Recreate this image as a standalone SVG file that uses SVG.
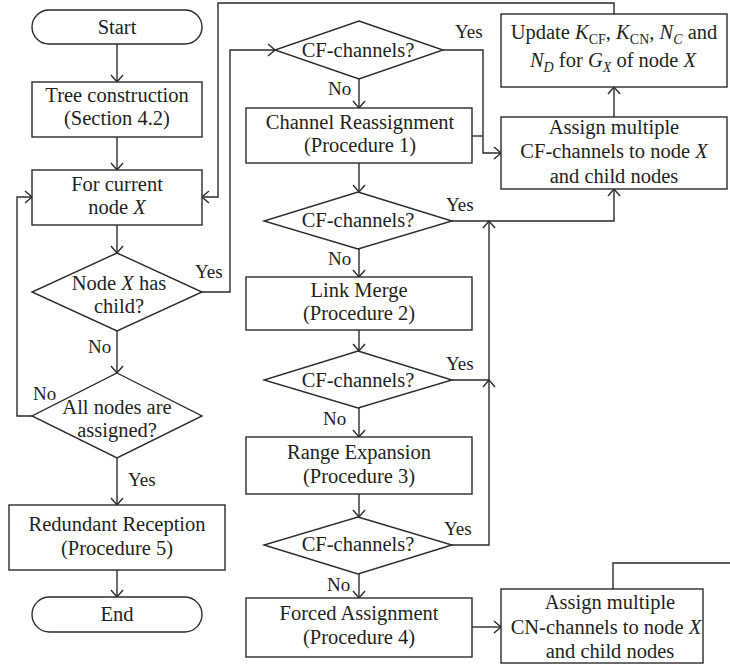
<svg xmlns="http://www.w3.org/2000/svg" width="730" height="665" viewBox="0 0 730 665">
  <defs>
    <style>
      .shape { fill: #ffffff; stroke: #2b2b2b; stroke-width: 1.4; }
      .wire { fill: none; stroke: #2b2b2b; stroke-width: 1.4; }
      .arrow { fill: none; stroke: #2b2b2b; stroke-width: 1.4; marker-end: url(#ah); }
      text { font-family: "Liberation Serif", "Times New Roman", serif; fill: #231f20; }
      .t { font-size: 20.5px; text-anchor: middle; }
      .lbl { font-size: 19px; }
      .it { font-style: italic; }
      .sub { font-size: 14px; }
    </style>
    <marker id="ah" viewBox="-10 -8 12 16" markerWidth="12" markerHeight="16" refX="0" refY="0" orient="auto" markerUnits="userSpaceOnUse">
      <path d="M-7,-6 L0,0 L-7,6" fill="none" stroke="#2b2b2b" stroke-width="1.4"/>
    </marker>
  </defs>

  <!-- connectors -->
  <g id="connectors">
    <path class="arrow" d="M117,44 V82"/>
    <path class="arrow" d="M117,137 V170"/>
    <path class="arrow" d="M117,225 V253"/>
    <path class="arrow" d="M117,331 V373"/>
    <path class="arrow" d="M117,458 V505"/>
    <path class="arrow" d="M117,570 V597"/>
    <!-- loop back: all nodes not yet assigned -->
    <path class="arrow" d="M32,416 H17 V197 H32"/>
    <!-- node has child: go to CF check -->
    <path class="arrow" d="M202,292 H230 V50 H275"/>
    <!-- CF-channels available after first check -->
    <path class="arrow" d="M443,50 H483 V153 H501"/>
    <path class="wire" d="M472,136 H483"/>
    <!-- main chain of procedures -->
    <path class="arrow" d="M359,79 V108"/>
    <path class="arrow" d="M359,163 V192"/>
    <path class="arrow" d="M359,249 V277"/>
    <path class="arrow" d="M359,330 V351"/>
    <path class="arrow" d="M359,408 V437"/>
    <path class="arrow" d="M359,494 V517"/>
    <path class="arrow" d="M359,574 V598"/>
    <path class="arrow" d="M472,627 H501"/>
    <!-- Yes branches merging upward -->
    <path class="arrow" d="M452,545 H489 V380"/>
    <path class="arrow" d="M452,380 H489 V221"/>
    <path class="arrow" d="M452,221 H614 V189"/>
    <path class="arrow" d="M614,117 V87"/>
    <!-- back to the current node -->
    <path class="arrow" d="M614,14 V3 H218 V197 H202"/>
    <path class="wire" d="M613,589 V563 H730"/>

    <!-- branch labels -->
    <text class="lbl" x="195" y="278">Yes</text>
    <text class="lbl" x="88" y="353">No</text>
    <text class="lbl" x="33" y="400">No</text>
    <text class="lbl" x="128" y="486">Yes</text>
    <text class="lbl" x="455" y="38">Yes</text>
    <text class="lbl" x="328" y="95">No</text>
    <text class="lbl" x="446" y="211">Yes</text>
    <text class="lbl" x="328" y="265">No</text>
    <text class="lbl" x="446" y="370">Yes</text>
    <text class="lbl" x="323" y="425">No</text>
    <text class="lbl" x="444" y="535">Yes</text>
    <text class="lbl" x="327" y="591">No</text>
  </g>

  <!-- left column -->
  <g id="start">
    <rect class="shape" x="32" y="10" width="170" height="34" rx="17"/>
    <text class="t" x="117" y="34">Start</text>
  </g>
  <g id="tree">
    <rect class="shape" x="32" y="82" width="170" height="55"/>
    <text class="t" x="117" y="102">Tree construction</text>
    <text class="t" x="117" y="125">(Section 4.2)</text>
  </g>
  <g id="current">
    <rect class="shape" x="32" y="170" width="170" height="55"/>
    <text class="t" x="117" y="191">For current</text>
    <text class="t" x="117" y="214">node <tspan class="it">X</tspan></text>
  </g>
  <g id="haschild">
    <polygon class="shape" points="117,253 202,292 117,331 32,292"/>
    <text class="t" x="119" y="290">Node <tspan class="it">X</tspan> has</text>
    <text class="t" x="119" y="313">child?</text>
  </g>
  <g id="allassigned">
    <polygon class="shape" points="117,373 202,416 117,458 32,416"/>
    <text class="t" x="117" y="414">All nodes are</text>
    <text class="t" x="117" y="437">assigned?</text>
  </g>
  <g id="redundant">
    <rect class="shape" x="9" y="505" width="216" height="65"/>
    <text class="t" x="117" y="531">Redundant Reception</text>
    <text class="t" x="117" y="555">(Procedure 5)</text>
  </g>
  <g id="end">
    <rect class="shape" x="32" y="597" width="170" height="35" rx="17.5"/>
    <text class="t" x="117" y="621">End</text>
  </g>

  <!-- middle column -->
  <g id="cf1">
    <polygon class="shape" points="359,21 443,50 359,79 275,50"/>
    <text class="t" x="358" y="57">CF-channels?</text>
  </g>
  <g id="proc1">
    <rect class="shape" x="246" y="108" width="226" height="55"/>
    <text class="t" x="360" y="129">Channel Reassignment</text>
    <text class="t" x="360" y="152">(Procedure 1)</text>
  </g>
  <g id="cf2">
    <polygon class="shape" points="358,192 452,221 358,249 264,221"/>
    <text class="t" x="358" y="227">CF-channels?</text>
  </g>
  <g id="proc2">
    <rect class="shape" x="246" y="277" width="226" height="53"/>
    <text class="t" x="359" y="297">Link Merge</text>
    <text class="t" x="359" y="320">(Procedure 2)</text>
  </g>
  <g id="cf3">
    <polygon class="shape" points="358,351 452,380 358,408 264,380"/>
    <text class="t" x="358" y="387">CF-channels?</text>
  </g>
  <g id="proc3">
    <rect class="shape" x="246" y="437" width="226" height="57"/>
    <text class="t" x="359" y="459">Range Expansion</text>
    <text class="t" x="359" y="483">(Procedure 3)</text>
  </g>
  <g id="cf4">
    <polygon class="shape" points="358,517 452,545 358,574 264,545"/>
    <text class="t" x="358" y="551">CF-channels?</text>
  </g>
  <g id="proc4">
    <rect class="shape" x="246" y="598" width="226" height="59"/>
    <text class="t" x="359" y="620">Forced Assignment</text>
    <text class="t" x="359" y="644">(Procedure 4)</text>
  </g>

  <!-- right column -->
  <g id="update">
    <rect class="shape" x="501" y="14" width="226" height="73"/>
    <text class="t" x="614" y="39">Update <tspan class="it">K</tspan><tspan class="sub" dy="5">CF</tspan><tspan dy="-5">, </tspan><tspan class="it">K</tspan><tspan class="sub" dy="5">CN</tspan><tspan dy="-5">, </tspan><tspan class="it">N</tspan><tspan class="sub it" dy="5">C</tspan><tspan dy="-5"> and</tspan></text>
    <text class="t" x="613" y="67"><tspan class="it">N</tspan><tspan class="sub it" dy="5">D</tspan><tspan dy="-5"> for </tspan><tspan class="it">G</tspan><tspan class="sub it" dy="5">X</tspan><tspan dy="-5"> of node </tspan><tspan class="it">X</tspan></text>
  </g>
  <g id="assigncf">
    <rect class="shape" x="501" y="117" width="226" height="72"/>
    <text class="t" x="614" y="134">Assign multiple</text>
    <text class="t" x="614" y="158">CF-channels to node <tspan class="it">X</tspan></text>
    <text class="t" x="614" y="183">and child nodes</text>
  </g>
  <g id="assigncn">
    <rect class="shape" x="501" y="589" width="202" height="74"/>
    <text class="t" x="610" y="609">Assign multiple</text>
    <text class="t" x="606" y="634">CN-channels to node <tspan class="it">X</tspan></text>
    <text class="t" x="610" y="658">and child nodes</text>
  </g>
</svg>
